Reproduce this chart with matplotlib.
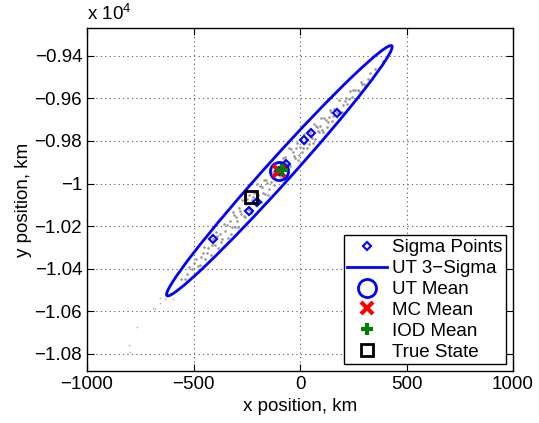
import numpy as np
import matplotlib.pyplot as plt
from matplotlib.patches import Ellipse
from matplotlib.lines import Line2D
from matplotlib.ticker import FixedLocator, FuncFormatter

plt.rcParams['font.family'] = ['Liberation Sans', 'DejaVu Sans']
plt.rcParams['mathtext.fontset'] = 'custom'
plt.rcParams['mathtext.rm'] = 'Liberation Sans'

# Monte Carlo cloud (km)
mc_x = [-560, -540, -520, -505, -490, -480, -465, -450, -445, -430, -420, -410, -400,
        -395, -385, -375, -365, -355, -350, -340, -330, -320, -315, -305, -300, -290,
        -285, -275, -270, -260, -255, -245, -240, -230, -225, -215, -210, -200, -195,
        -185, -180, -170, -165, -155, -150, -140, -135, -125, -120, -110, -100, -95,
        -85, -75, -70, -60, -50, -45, -35, -25, -15, -10, 0, 10, 20, 25, 35, 45, 55,
        65, 70, 80, 90, 100, 110, 120, 130, 140, 150, 160, 175, 185, 195, 210, 220,
        235, 245, 260, 275, 290, 305, 320, 352, 390,
        -530, -500, -470, -455, -435, -415, -390, -370, -345, -325, -310, -295, -280,
        -265, -250, -235, -220, -205, -190, -175, -160, -145, -130, -115, -105, -90,
        -80, -65, -55, -40, -30, -20, -5, 5, 15, 30, 40, 50, 60, 75, 85, 95, 105, 115,
        125, 135, 145, 155, 170, 180, 200, 215, 230, 250, 270, 285, 300, 330,
        -596, -634, -657, -681, -657, -690, -767, -804, -798]
mc_y = [-10446, -10449, -10392, -10400, -10353, -10387, -10346, -10299, -10353, -10302,
        -10336, -10260, -10288, -10228, -10302, -10236, -10260, -10188, -10223, -10257,
        -10176, -10205, -10134, -10203, -10157, -10206, -10116, -10145, -10079, -10158,
        -10097, -10121, -10056, -10140, -10079, -10043, -10092, -10001, -10056, -10085,
        -10014, -9983, -10047, -9996, -10056, -9940, -9994, -9948, -10007, -9956, -9900,
        -9965, -9913, -9967, -9877, -9911, -9835, -9919, -9853, -9882, -9811, -9890,
        -9829, -9853, -9767, -9811, -9835, -9759, -9788, -9722, -9791, -9735, -9759,
        -9693, -9757, -9701, -9710, -9653, -9707, -9651, -9665, -9608, -9662, -9611,
        -9625, -9568, -9592, -9560, -9568, -9532, -9540, -9508, -9463, -9425,
        -10423, -10375, -10381, -10325, -10327, -10290, -10247, -10275, -10197, -10235,
        -10148, -10177, -10130, -10153, -10072, -10125, -10063, -10102, -10010, -10043,
        -9982, -10025, -9963, -9982, -9926, -9979, -9878, -9896, -9925, -9838, -9872,
        -9831, -9865, -9798, -9832, -9791, -9815, -9773, -9812, -9731, -9755, -9728,
        -9747, -9691, -9735, -9689, -9663, -9682, -9650, -9669, -9632, -9600, -9603,
        -9561, -9559, -9522, -9531, -9482,
        -10540, -10540, -10563, -10587, -10535, -10582, -10675, -10756, -10792]

# sigma points (km)
sig_x = [172, 50, 20, -66, -97, -200, -238, -407]
sig_y = [-9670, -9761, -9795, -9908, -9942, -10085, -10130, -10261]

# UT 3-sigma ellipse: center, semi-axes, angle
ell_center = (-97, -9940)
ell_a = 789
ell_b = 58
ell_angle = 48.0

ut_mean = (-100, -9942)
mc_mean = (-97, -9942)
iod_mean = (-86, -9936)
true_state = (-229, -10062)

fig = plt.figure(figsize=(5.39, 4.23), dpi=100)
ax = fig.add_axes([87 / 539, 1 - 371 / 423, 426 / 539, 343 / 423])

ax.plot(mc_x[:-9], mc_y[:-9], '.', color='0.6', markersize=3.8, markeredgewidth=0, zorder=2)
ax.plot(mc_x[-9:], mc_y[-9:], '.', color='0.7', markersize=2.5, markeredgewidth=0, zorder=2)
ax.add_patch(Ellipse(ell_center, 2 * ell_a, 2 * ell_b, angle=ell_angle,
                     fill=False, edgecolor='b', lw=2.0, zorder=3))
ax.plot(sig_x, sig_y, 'D', mfc='none', mec='b', ms=4.2, mew=1.5, zorder=4)
ax.plot(*ut_mean, 'o', mfc='none', mec='b', ms=13, mew=2, zorder=5)
ax.plot(*mc_mean, 'x', color='r', ms=9, mew=3, zorder=6)
ax.plot(*iod_mean, '+', color=(0, 0.5, 0), ms=9, mew=3, zorder=7)
ax.plot(*true_state, 's', mfc='none', mec='k', ms=8, mew=2, zorder=8)

ax.set_xlim(-1000, 1000)
ax.set_ylim(-10880, -9270)
ax.xaxis.set_major_locator(FixedLocator([-1000, -500, 0, 500, 1000]))
ax.yaxis.set_major_locator(FixedLocator(np.arange(-10800, -9300, 200)))
ax.xaxis.set_major_formatter(FuncFormatter(lambda v, p: f'{v:g}'.replace('-', '\u2212')))
ax.yaxis.set_major_formatter(FuncFormatter(lambda v, p: f'{v / 1e4:g}'.replace('-', '\u2212')))
ax.tick_params(direction='in', length=5, width=0.8, top=True, right=True, labelsize=13.5)
ax.grid(True, linestyle=(0, (1, 3)), color='0.35', lw=0.8)
for s in ax.spines.values():
    s.set_linewidth(1.0)

ax.text(0, 1.012, r'x 10$^{4}$', transform=ax.transAxes, fontsize=13.5, ha='left', va='bottom')
ax.set_xlabel('x position, km', fontsize=13.5, labelpad=4)
ax.set_ylabel('y position, km', fontsize=13.5, labelpad=2)

handles = [
    Line2D([], [], ls='none', marker='D', mfc='none', mec='b', ms=4.2, mew=1.5),
    Line2D([], [], color='b', lw=2),
    Line2D([], [], ls='none', marker='o', mfc='none', mec='b', ms=13, mew=2),
    Line2D([], [], ls='none', marker='x', color='r', ms=9, mew=3),
    Line2D([], [], ls='none', marker='+', color=(0, 0.5, 0), ms=9, mew=3),
    Line2D([], [], ls='none', marker='s', mfc='none', mec='k', ms=8, mew=2),
]
labels = ['Sigma Points', 'UT 3\u2212Sigma', 'UT Mean', 'MC Mean', 'IOD Mean', 'True State']
leg = ax.legend(handles, labels, loc='lower right', fontsize=13.5, fancybox=False,
                edgecolor='k', framealpha=1, handlelength=2.1, handletextpad=0.3,
                labelspacing=0.2, borderpad=0.2, borderaxespad=0.35)
leg.get_frame().set_linewidth(1.0)

fig.savefig('out.png', dpi=100)
